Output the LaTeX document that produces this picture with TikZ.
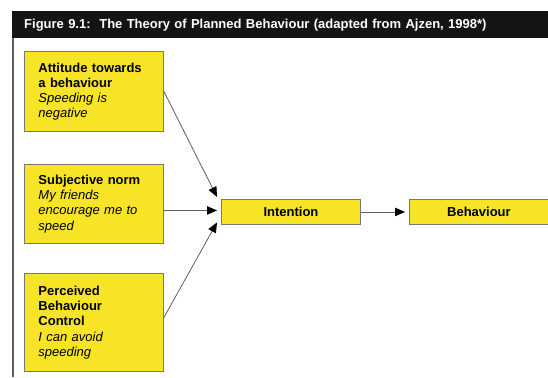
\documentclass[tikz,border=0pt]{standalone}
\usepackage{fontspec}
\setmainfont{Liberation Sans}
\usepackage{tikz}
\usetikzlibrary{arrows.meta,positioning,calc}
\definecolor{tpbyellow}{RGB}{247,228,38}
\definecolor{tpbedge}{RGB}{120,120,120}
\definecolor{tpbline}{RGB}{95,95,95}
\tikzset{
  >={Triangle[length=10pt,width=8.5pt,color=black,fill=black]},
  factor/.style={draw=tpbedge, line width=0.9pt, fill=tpbyellow, anchor=north west, align=left,
    text width=111pt, inner xsep=14pt, inner ysep=2pt, font=\fontsize{13}{15.2}\selectfont},
  outcome/.style={draw=tpbedge, line width=0.9pt, fill=tpbyellow, anchor=north west, align=center,
    text width=139pt, inner xsep=0pt, minimum height=25pt, font=\bfseries\fontsize{13}{15}\selectfont},
  titlebar/.style={fill=black!92, anchor=north west, text=white, align=left, text width=512pt,
    inner xsep=12pt, minimum height=27pt, font=\bfseries\fontsize{13}{15}\selectfont},
  flow/.style={->, draw=tpbline, line width=0.8pt},
}
\begin{document}
\begin{tikzpicture}[x=1pt, y=-1pt]
  \useasboundingbox (0,0) rectangle (548,377);
  \fill[white] (0,0) rectangle (548,377);
  \node[titlebar] (title) at (12,11) {Figure 9.1:\ \ The Theory of Planned Behaviour (adapted from Ajzen, 1998*)};
  \coordinate (framebot) at (13,377);
  \draw[tpbline, line width=1.2pt] (title.south west -| framebot) -- (framebot);
  % the three determinants
  \node[factor, minimum height=80pt] (attitude) at (24,51)
    {\textbf{Attitude towards}\\ \textbf{a behaviour}\\ \textit{Speeding is}\\ \textit{negative}};
  \node[factor, minimum height=79pt] (norm) at (24,164)
    {\textbf{Subjective norm}\\ \textit{My friends}\\ \textit{encourage me to}\\ \textit{speed}};
  \node[factor, minimum height=98pt] (control) at (24,273)
    {\textbf{Perceived}\\ \textbf{Behaviour}\\ \textbf{Control}\\ \textit{I can avoid}\\ \textit{speeding}};
  \node[outcome] (intention) at (221,199) {Intention};
  \node[outcome] (behaviour) at (409,199) {Behaviour};
  % arrow ends just left of Intention
  \coordinate (in1) at ($(intention.west)+(-4,-15)$);
  \coordinate (in2) at ($(intention.west)+(-4,-1.5)$);
  \coordinate (in3) at ($(intention.west)+(-4,10.5)$);
  \draw[flow] (attitude.east) -- (in1);
  \draw[flow] (norm.east |- in2) -- (in2);
  \draw[flow] ($(control.east)+(0,-5)$) -- (in3);
  \draw[flow, shorten >=4pt] (intention) -- (behaviour);
\end{tikzpicture}
\end{document}
